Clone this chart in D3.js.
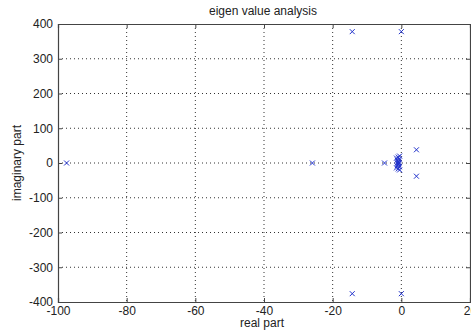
<!DOCTYPE HTML>
<html>
<head>
  <meta charset="utf-8">
  <title>eigen value analysis</title>
  <script src="https://d3js.org/d3.v7.min.js"></script>
  <style>
    body { margin: 0; background: #fff; }
    text { font-family: "Liberation Sans", Arial, sans-serif; fill: #222; }
  </style>
</head>
<body>
  <script>
    // eigenvalues (real, imaginary)
    const realPart = [-97.5, -25.9, -14.3, -14.3, 0, 0, -4.9, 4.4, 4.4,
      -1, -1, -0.8, -0.8, -1.2, -1.2, -0.6, -0.6, -1.4, -1.4, -0.9, -0.9, -0.5, -0.5, -1.1, -0.7];
    const imagPart = [0, 0, 378, -376, 378, -376, 0, 38, -38,
      2, -2, 5, -5, 8, -8, 11, -11, 14, -14, 17, -17, 20, -20, 0, 0];
    const xTicks = [-100, -80, -60, -40, -20, 0, 20];
    const yTicks = [-400, -300, -200, -100, 0, 100, 200, 300, 400];

    const W = 471, H = 332;
    const m = { left: 58, right: 470, top: 24, bottom: 302 };

    const svg = d3.select('body').append('svg')
      .attr('width', W)
      .attr('height', H);

    const x = d3.scaleLinear().domain([-100, 20]).range([m.left, m.right]);
    const y = d3.scaleLinear().domain([-400, 400]).range([m.bottom, m.top]);

    // dotted grid
    svg.append('g').selectAll('line')
      .data(xTicks.slice(1, -1))
      .join('line')
      .attr('x1', d => x(d)).attr('x2', d => x(d))
      .attr('y1', m.top).attr('y2', m.bottom)
      .attr('stroke', '#333').attr('stroke-dasharray', '1,3');
    svg.append('g').selectAll('line')
      .data(yTicks.slice(1, -1))
      .join('line')
      .attr('y1', d => y(d)).attr('y2', d => y(d))
      .attr('x1', m.left).attr('x2', m.right)
      .attr('stroke', '#333').attr('stroke-dasharray', '1,3');

    // axes, ticks inside like matlab
    const fmt = d => d3.format('d')(d).replace('−', '-');
    const gx = svg.append('g').attr('transform', `translate(0,${m.bottom})`)
      .call(d3.axisBottom(x).tickValues(xTicks).tickSize(-4).tickPadding(4).tickFormat(fmt));
    const gxTop = svg.append('g').attr('transform', `translate(0,${m.top})`)
      .call(d3.axisTop(x).tickValues(xTicks).tickSize(-4).tickFormat(''));
    const gy = svg.append('g').attr('transform', `translate(${m.left},0)`)
      .call(d3.axisLeft(y).tickValues(yTicks).tickSize(-4).tickPadding(5).tickFormat(fmt));
    const gyRight = svg.append('g').attr('transform', `translate(${m.right},0)`)
      .call(d3.axisRight(y).tickValues(yTicks).tickSize(-4).tickFormat(''));

    [gx, gxTop, gy, gyRight].forEach(g => {
      g.select('.domain').attr('stroke', '#444').attr('stroke-width', 1.2);
      g.selectAll('.tick line').attr('stroke', '#444');
      g.selectAll('.tick text').attr('font-size', 12).attr('fill', '#222')
        .style('font-family', '"Liberation Sans", Arial, sans-serif');
    });

    // eigenvalue markers (x)
    const pts = realPart.map((r, i) => ({ r: r, im: imagPart[i] }));
    const s = 2.5;
    svg.append('g').selectAll('path')
      .data(pts)
      .join('path')
      .attr('d', d => {
        const cx = x(d.r), cy = y(d.im);
        return `M${cx - s},${cy - s}L${cx + s},${cy + s}M${cx - s},${cy + s}L${cx + s},${cy - s}`;
      })
      .attr('stroke', '#2233cc')
      .attr('stroke-width', 1)
      .attr('fill', 'none');

    // labels
    svg.append('text')
      .attr('x', 263).attr('y', 15)
      .attr('text-anchor', 'middle').attr('font-size', 12)
      .text('eigen value analysis');
    svg.append('text')
      .attr('x', 262).attr('y', 327)
      .attr('text-anchor', 'middle').attr('font-size', 12)
      .text('real part');
    svg.append('text')
      .attr('transform', `translate(21,${(m.top + m.bottom) / 2}) rotate(-90)`)
      .attr('text-anchor', 'middle').attr('font-size', 12)
      .text('imaginary part');
  </script>
</body>
</html>
